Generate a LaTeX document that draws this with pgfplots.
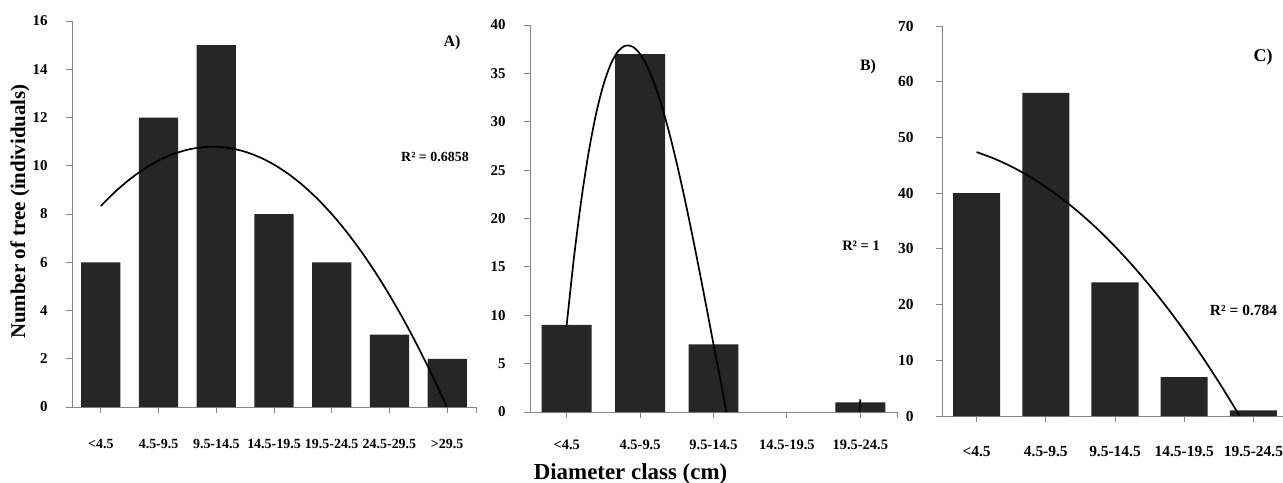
\documentclass[border=0pt]{standalone}
\usepackage{fontspec}
\setmainfont{Liberation Serif}
\usepackage{pgfplots}
\pgfplotsset{compat=1.18}
\definecolor{barc}{HTML}{262626}
\definecolor{axc}{HTML}{868686}
\pgfplotsset{
  panel/.style={
    scale only axis,
    anchor=south west,
    axis x line=bottom, axis y line=left,
    axis line style={-, axc, line width=0.9bp},
    every tick/.style={axc, line width=0.9bp},
    tick align=outside,
    major tick length=6bp,
    ymin=0,
    /pgf/number format/assume math mode=true,
    ticklabel style={text=black},
    extra x tick labels={},
  },
  bars/.style={ybar, bar width=0.68, fill=barc, draw=none},
  fit/.style={black, line width=1.7bp, smooth},
}
\begin{document}
\begin{tikzpicture}
\useasboundingbox (0,0) rectangle (1283bp,-483bp);
% ---------------- Panel A
\begin{axis}[panel,
  at={(72bp,-407bp)}, width=404bp, height=386bp,
  xmin=-0.5, xmax=6.5, ymax=16,
  xtick={0,...,6},
  xticklabels={<4.5,4.5-9.5,9.5-14.5,14.5-19.5,19.5-24.5,24.5-29.5,>29.5},
  extra x ticks={6.5},
  ytick={0,2,...,16},
  xticklabel style={yshift=-23bp, font=\bfseries\fontsize{14}{14}\selectfont},
  yticklabel style={xshift=-15bp, font=\bfseries\fontsize{15}{15}\selectfont},
]
\addplot[bars] coordinates {(0,6) (1,12) (2,15) (3,8) (4,6) (5,3) (6,2)};
\addplot[fit] coordinates {
(0,8.3333) (0.25,8.9264) (0.5,9.4374) (0.75,9.8668) (1,10.2143) (1.25,10.4799)
(1.5,10.6637) (1.75,10.7656) (2,10.7857) (2.25,10.7239) (2.5,10.5803) (2.75,10.3549)
(3,10.0476) (3.25,9.6585) (3.5,9.1875) (3.75,8.6347) (4,8.0000) (4.25,7.2834)
(4.5,6.4851) (4.75,5.6049) (5,4.6429) (5.25,3.5990) (5.5,2.4732) (5.75,1.2656)
(5.9,0.5018) (5.9955,0)};
\end{axis}
% ---------------- Panel B
\begin{axis}[panel,
  at={(530bp,-412bp)}, width=367bp, height=387bp,
  xmin=-0.5, xmax=4.5, ymax=40,
  xtick={0,...,4},
  xticklabels={<4.5,4.5-9.5,9.5-14.5,14.5-19.5,19.5-24.5},
  extra x ticks={4.5},
  ytick={0,5,...,40},
  xticklabel style={yshift=-18bp, font=\bfseries\fontsize{14.5}{14.5}\selectfont},
  yticklabel style={xshift=-15bp, font=\bfseries\fontsize{15}{15}\selectfont},
]
\addplot[bars] coordinates {(0,9) (1,37) (2,7) (4,1)};
\addplot[fit] coordinates {
(0,9) (0.1,16.0345) (0.2,21.976) (0.3,26.8815) (0.4,30.808) (0.5,33.8125)
(0.6,35.952) (0.7,37.2835) (0.8,37.864) (0.9,37.7505) (1.0,37) (1.1,35.6695)
(1.2,33.816) (1.3,31.4965) (1.4,28.768) (1.5,25.6875) (1.6,22.312) (1.7,18.6985)
(1.8,14.904) (1.9,10.9855) (2.0,7) (2.1,3.1215) (2.15,1.02) (2.176,0)};
\addplot[black, line width=1.7bp] coordinates {(3.986,0) (4.0,1.3)};
\addplot[barc, line width=2bp] coordinates {(4.30,0) (4.30,0.95)};
\end{axis}
% ---------------- Panel C
\begin{axis}[panel,
  at={(942bp,-416bp)}, width=346bp, height=390bp,
  xmin=-0.5, xmax=4.5, ymax=70,
  xtick={0,...,4},
  xticklabels={<4.5,4.5-9.5,9.5-14.5,14.5-19.5,19.5-24.5},
  extra x ticks={4.5},
  ytick={0,10,...,70},
  xticklabel style={yshift=-21bp, font=\bfseries\fontsize{15.5}{15.5}\selectfont},
  yticklabel style={xshift=-19bp, font=\bfseries\fontsize{15.5}{15.5}\selectfont},
]
\addplot[bars] coordinates {(0,40) (1,58) (2,24) (3,7) (4,1)};
\addplot[fit] coordinates {
(0,47.3714) (0.25,46.2223) (0.5,44.7964) (0.75,43.0938) (1,41.1143) (1.25,38.8581)
(1.5,36.325) (1.75,33.5152) (2,30.4286) (2.25,27.0652) (2.5,23.425) (2.75,19.5081)
(3,15.3143) (3.25,10.8438) (3.5,6.0965) (3.75,1.0723) (3.8017,0)};
\end{axis}
% ---------------- annotations
\begin{scope}[every node/.style={inner sep=0pt}]
\node[font=\bfseries\fontsize{16}{16}\selectfont] at (452bp,-43bp) {A)};
\node[font=\bfseries\fontsize{14}{14}\selectfont] at (435bp,-157bp) {R² = 0.6858};
\node[font=\bfseries\fontsize{16}{16}\selectfont] at (868bp,-67bp) {B)};
\node[font=\bfseries\fontsize{14.5}{14.5}\selectfont] at (861bp,-246bp) {R² = 1};
\node[font=\bfseries\fontsize{18}{18}\selectfont] at (1263bp,-57bp) {C)};
\node[font=\bfseries\fontsize{15.5}{15.5}\selectfont] at (1243.5bp,-310bp) {R² = 0.784};
\end{scope}
\node[rotate=90, anchor=base, inner sep=0pt, font=\bfseries\fontsize{21}{21}\selectfont] at (25bp,-211.5bp) {Number of tree (individuals)};
\node[anchor=base, inner sep=0pt, font=\bfseries\fontsize{23}{23}\selectfont] at (630.5bp,-479bp) {Diameter class (cm)};
\end{tikzpicture}
\end{document}
